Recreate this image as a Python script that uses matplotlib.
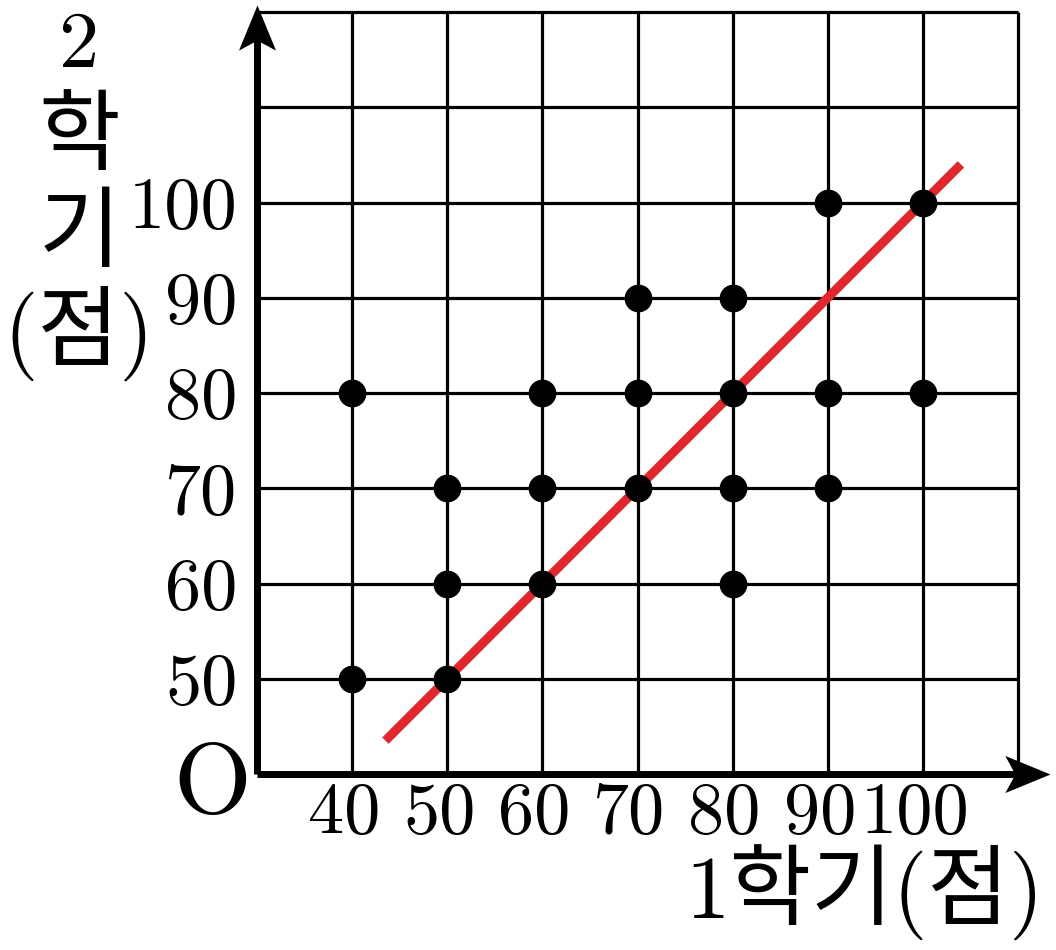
import matplotlib
matplotlib.use("Agg")
import matplotlib.pyplot as plt
import matplotlib.transforms as mtransforms
import numpy as np
from matplotlib.path import Path

# ---- data ----
sem1 = [40, 40, 50, 50, 50, 60, 60, 60, 70, 70, 70, 80, 80, 80, 80, 90, 90, 90, 100, 100]
sem2 = [50, 80, 50, 60, 70, 60, 70, 80, 70, 80, 90, 60, 70, 80, 90, 70, 80, 100, 80, 100]
x_ticks = [40, 50, 60, 70, 80, 90, 100]
y_ticks = [50, 60, 70, 80, 90, 100]
x_tick_labels = ["40", "50", "60", "70", "80", "90", "100"]
y_tick_labels = ["50", "60", "70", "80", "90", "100"]
grid_x = [30, 40, 50, 60, 70, 80, 90, 100, 110]
grid_y = [40, 50, 60, 70, 80, 90, 100, 110, 120]
line_x = [43.5, 104.0]   # red y = x line
line_y = [43.5, 104.0]
x_axis_label = "1학기(점)"
y_axis_label = ["2", "학", "기", "(점)"]

FAM = ["cmr10", "Noto Sans CJK KR", "DejaVu Serif"]
plt.rcParams["font.family"] = FAM
plt.rcParams["axes.formatter.use_mathtext"] = True

W, H = 1056, 950
fig = plt.figure(figsize=(W / 100, H / 100), dpi=100)
ax = fig.add_axes([257 / W, 1 - 774 / H, 761 / W, 762 / H])
ax.set_xlim(30, 110)
ax.set_ylim(40, 120)
for s in ax.spines.values():
    s.set_visible(False)

# grid
ax.vlines(grid_x[1:], grid_y[0], grid_y[-1], colors="black", lw=2.3, clip_on=False, zorder=1)
ax.hlines(grid_y[1:], grid_x[0], grid_x[-1], colors="black", lw=2.3, clip_on=False, zorder=1)

# axes with arrowheads
x_tip, y_tip = 113.4, 120.7
ax.plot([30, x_tip - 2], [40, 40], color="black", lw=5, solid_capstyle="butt", clip_on=False, zorder=3)
ax.plot([30, 30], [40, y_tip - 2], color="black", lw=5, solid_capstyle="butt", clip_on=False, zorder=3)
verts = np.array([(0, 0), (-45, 18.5), (-35, 0), (-45, -18.5), (0, 0)])
codes = [Path.MOVETO, Path.LINETO, Path.LINETO, Path.LINETO, Path.CLOSEPOLY]
right_head = Path(verts, codes)
up_head = Path(np.column_stack([-verts[:, 1], -verts[:, 0]]) * -1, codes)
ax.plot([x_tip], [40], marker=right_head, ms=65, color="black", mew=0, clip_on=False, zorder=4)
ax.plot([30], [y_tip], marker=up_head, ms=65, color="black", mew=0, clip_on=False, zorder=4)

# red line
ax.plot(line_x, line_y, color="#E3262B", lw=6.5, solid_capstyle="butt", zorder=5)

# points
ax.plot(sem1, sem2, "o", color="black", ms=20, mew=0, zorder=6, clip_on=False)

# tick labels
ax.set_xticks([])
ax.set_yticks(y_ticks)
ax.set_yticklabels(y_tick_labels)
ax.tick_params(length=0, labelsize=52)
for t in ax.get_yticklabels():
    t.set_family(FAM)
ax.tick_params(axis="y", pad=14)

xoff = mtransforms.ScaledTranslation(-8 / 100, -41 / 100, fig.dpi_scale_trans)
xtrans = mtransforms.blended_transform_factory(ax.transData, ax.transAxes) + xoff
for xv, lab in zip(x_ticks, x_tick_labels):
    ax.text(xv, 0, lab, transform=xtrans, fontsize=52, family=FAM, ha="center", va="center")

def ftext(x, y, s, size, **kw):
    fig.text(x / W, 1 - y / H, s, fontsize=size, family=FAM, ha="center", va="center", **kw)

ftext(212, 788, "O", 72)
ftext(865, 893, x_axis_label, 64)
ys = [47, 140, 237, 333]
sizes = [58, 64, 64, 64]
for s, y, fs in zip(y_axis_label, ys, sizes):
    ftext(79, y, s, fs)

fig.savefig("out.png", dpi=100)
